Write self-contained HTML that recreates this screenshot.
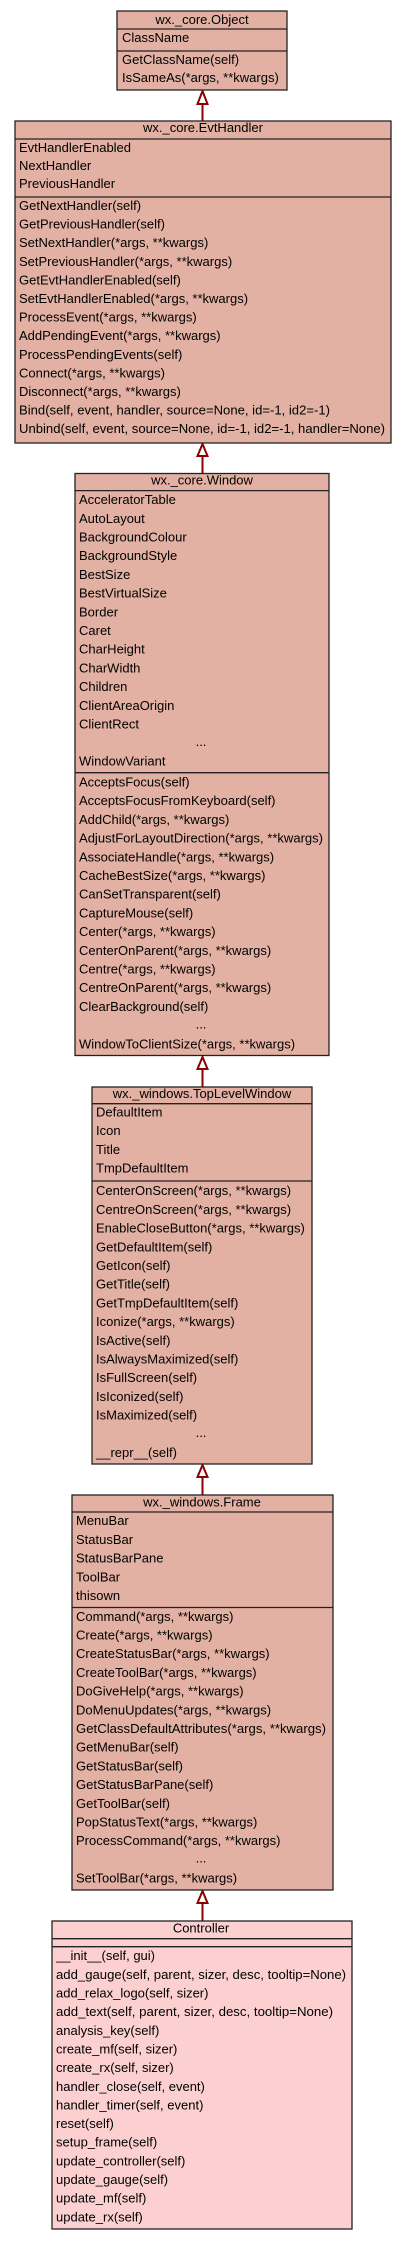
<!DOCTYPE html>
<html><head><meta charset="utf-8"><style>
html,body{margin:0;padding:0;background:#fff;}
svg text{font-family:"Liberation Sans",sans-serif;font-size:13px;fill:#000;}
.c{text-anchor:middle;}
</style></head><body>
<svg width="405" height="2240" viewBox="0 0 405 2240" xmlns="http://www.w3.org/2000/svg">
<g stroke="#8b0000" stroke-width="2" fill="#fff">
<line x1="202.5" y1="104" x2="202.5" y2="121"/><polygon points="202.5,91 197.5,104 207.5,104"/>
<line x1="202.5" y1="456" x2="202.5" y2="473.5"/><polygon points="202.5,444 197.5,456 207.5,456"/>
<line x1="202.5" y1="1069" x2="202.5" y2="1087"/><polygon points="202.5,1057 197.5,1069 207.5,1069"/>
<line x1="202.5" y1="1477" x2="202.5" y2="1495"/><polygon points="202.5,1465 197.5,1477 207.5,1477"/>
<line x1="202.5" y1="1903" x2="202.5" y2="1921"/><polygon points="202.5,1891 197.5,1903 207.5,1903"/>
</g>
<g stroke="#222" stroke-width="1.3">
<rect x="117" y="11" width="170" height="79" fill="#e2b1a3"/>
<line x1="117" y1="29" x2="287" y2="29"/><line x1="117" y1="51" x2="287" y2="51"/>
<rect x="15" y="121" width="376" height="322" fill="#e2b1a3"/>
<line x1="15" y1="139" x2="391" y2="139"/><line x1="15" y1="197" x2="391" y2="197"/>
<rect x="75" y="473.5" width="254" height="582" fill="#e2b1a3"/>
<line x1="75" y1="490.6" x2="329" y2="490.6"/><line x1="75" y1="772.7" x2="329" y2="772.7"/>
<rect x="92" y="1087" width="220" height="377" fill="#e2b1a3"/>
<line x1="92" y1="1103.7" x2="312" y2="1103.7"/><line x1="92" y1="1181" x2="312" y2="1181"/>
<rect x="72" y="1495" width="261" height="395" fill="#e2b1a3"/>
<line x1="72" y1="1512" x2="333" y2="1512"/><line x1="72" y1="1607.5" x2="333" y2="1607.5"/>
<rect x="52" y="1921" width="300" height="308" fill="#fcd0d0"/>
<line x1="52" y1="1938.7" x2="352" y2="1938.7"/><line x1="52" y1="1946.7" x2="352" y2="1946.7"/>
</g>
<text class="c" x="202" y="24">wx._core.Object</text>
<text x="122" y="42">ClassName</text>
<text x="122" y="64">GetClassName(self)</text>
<text x="122" y="82">IsSameAs(*args, **kwargs)</text>

<text class="c" x="203" y="132">wx._core.EvtHandler</text>
<text x="19" y="152">EvtHandlerEnabled</text>
<text x="19" y="170">NextHandler</text>
<text x="19" y="188">PreviousHandler</text>
<text x="19" y="210">GetNextHandler(self)</text>
<text x="19" y="228.6">GetPreviousHandler(self)</text>
<text x="19" y="247.2">SetNextHandler(*args, **kwargs)</text>
<text x="19" y="265.8">SetPreviousHandler(*args, **kwargs)</text>
<text x="19" y="284.4">GetEvtHandlerEnabled(self)</text>
<text x="19" y="303">SetEvtHandlerEnabled(*args, **kwargs)</text>
<text x="19" y="321.6">ProcessEvent(*args, **kwargs)</text>
<text x="19" y="340.2">AddPendingEvent(*args, **kwargs)</text>
<text x="19" y="358.8">ProcessPendingEvents(self)</text>
<text x="19" y="377.4">Connect(*args, **kwargs)</text>
<text x="19" y="396">Disconnect(*args, **kwargs)</text>
<text x="19" y="414.6" textLength="311" lengthAdjust="spacingAndGlyphs">Bind(self, event, handler, source=None, id=-1, id2=-1)</text>
<text x="19" y="433.2" textLength="366" lengthAdjust="spacingAndGlyphs">Unbind(self, event, source=None, id=-1, id2=-1, handler=None)</text>

<text class="c" x="202" y="484.5">wx._core.Window</text>
<text x="79" y="504.1">AcceleratorTable</text>
<text x="79" y="522.8">AutoLayout</text>
<text x="79" y="541.5">BackgroundColour</text>
<text x="79" y="560.2">BackgroundStyle</text>
<text x="79" y="578.9">BestSize</text>
<text x="79" y="597.6">BestVirtualSize</text>
<text x="79" y="616.3">Border</text>
<text x="79" y="635">Caret</text>
<text x="79" y="653.7">CharHeight</text>
<text x="79" y="672.4">CharWidth</text>
<text x="79" y="691.1">Children</text>
<text x="79" y="709.8">ClientAreaOrigin</text>
<text x="79" y="728.5">ClientRect</text>
<text class="c" x="201" y="746">...</text>
<text x="79" y="765.4">WindowVariant</text>
<text x="79" y="786.5">AcceptsFocus(self)</text>
<text x="79" y="805.2">AcceptsFocusFromKeyboard(self)</text>
<text x="79" y="823.9">AddChild(*args, **kwargs)</text>
<text x="79" y="842.6" textLength="244" lengthAdjust="spacingAndGlyphs">AdjustForLayoutDirection(*args, **kwargs)</text>
<text x="79" y="861.3">AssociateHandle(*args, **kwargs)</text>
<text x="79" y="880">CacheBestSize(*args, **kwargs)</text>
<text x="79" y="898.7">CanSetTransparent(self)</text>
<text x="79" y="917.4">CaptureMouse(self)</text>
<text x="79" y="936.1">Center(*args, **kwargs)</text>
<text x="79" y="954.8">CenterOnParent(*args, **kwargs)</text>
<text x="79" y="973.5">Centre(*args, **kwargs)</text>
<text x="79" y="992.2">CentreOnParent(*args, **kwargs)</text>
<text x="79" y="1010.9">ClearBackground(self)</text>
<text class="c" x="201" y="1028.5">...</text>
<text x="79" y="1048.3">WindowToClientSize(*args, **kwargs)</text>

<text class="c" x="202" y="1097.8">wx._windows.TopLevelWindow</text>
<text x="96" y="1116.5">DefaultItem</text>
<text x="96" y="1135.2">Icon</text>
<text x="96" y="1153.9">Title</text>
<text x="96" y="1172.6">TmpDefaultItem</text>
<text x="96" y="1195.2">CenterOnScreen(*args, **kwargs)</text>
<text x="96" y="1213.9">CentreOnScreen(*args, **kwargs)</text>
<text x="96" y="1232.6">EnableCloseButton(*args, **kwargs)</text>
<text x="96" y="1251.3">GetDefaultItem(self)</text>
<text x="96" y="1270">GetIcon(self)</text>
<text x="96" y="1288.7">GetTitle(self)</text>
<text x="96" y="1307.4">GetTmpDefaultItem(self)</text>
<text x="96" y="1326.1">Iconize(*args, **kwargs)</text>
<text x="96" y="1344.8">IsActive(self)</text>
<text x="96" y="1363.5">IsAlwaysMaximized(self)</text>
<text x="96" y="1382.2">IsFullScreen(self)</text>
<text x="96" y="1400.9">IsIconized(self)</text>
<text x="96" y="1419.6">IsMaximized(self)</text>
<text class="c" x="201" y="1437">...</text>
<text x="96" y="1457">__repr__(self)</text>

<text class="c" x="202" y="1506.3">wx._windows.Frame</text>
<text x="76" y="1525.2">MenuBar</text>
<text x="76" y="1543.9">StatusBar</text>
<text x="76" y="1562.6">StatusBarPane</text>
<text x="76" y="1581.3">ToolBar</text>
<text x="76" y="1600">thisown</text>
<text x="76" y="1620.8">Command(*args, **kwargs)</text>
<text x="76" y="1639.5">Create(*args, **kwargs)</text>
<text x="76" y="1658.2">CreateStatusBar(*args, **kwargs)</text>
<text x="76" y="1676.9">CreateToolBar(*args, **kwargs)</text>
<text x="76" y="1695.6">DoGiveHelp(*args, **kwargs)</text>
<text x="76" y="1714.3">DoMenuUpdates(*args, **kwargs)</text>
<text x="76" y="1733" textLength="250" lengthAdjust="spacingAndGlyphs">GetClassDefaultAttributes(*args, **kwargs)</text>
<text x="76" y="1751.7">GetMenuBar(self)</text>
<text x="76" y="1770.4">GetStatusBar(self)</text>
<text x="76" y="1789.1">GetStatusBarPane(self)</text>
<text x="76" y="1807.8">GetToolBar(self)</text>
<text x="76" y="1826.5">PopStatusText(*args, **kwargs)</text>
<text x="76" y="1845.2">ProcessCommand(*args, **kwargs)</text>
<text class="c" x="201" y="1862.5">...</text>
<text x="76" y="1882.6">SetToolBar(*args, **kwargs)</text>

<text class="c" x="201" y="1932.5">Controller</text>
<text x="56" y="1960.2">__init__(self, gui)</text>
<text x="56" y="1978.85" textLength="290" lengthAdjust="spacingAndGlyphs">add_gauge(self, parent, sizer, desc, tooltip=None)</text>
<text x="56" y="1997.5">add_relax_logo(self, sizer)</text>
<text x="56" y="2016.15" textLength="277" lengthAdjust="spacingAndGlyphs">add_text(self, parent, sizer, desc, tooltip=None)</text>
<text x="56" y="2034.8">analysis_key(self)</text>
<text x="56" y="2053.45">create_mf(self, sizer)</text>
<text x="56" y="2072.1">create_rx(self, sizer)</text>
<text x="56" y="2090.75">handler_close(self, event)</text>
<text x="56" y="2109.4">handler_timer(self, event)</text>
<text x="56" y="2128.05">reset(self)</text>
<text x="56" y="2146.7">setup_frame(self)</text>
<text x="56" y="2165.35">update_controller(self)</text>
<text x="56" y="2184">update_gauge(self)</text>
<text x="56" y="2202.65">update_mf(self)</text>
<text x="56" y="2221.3">update_rx(self)</text>
</svg>
</body></html>
